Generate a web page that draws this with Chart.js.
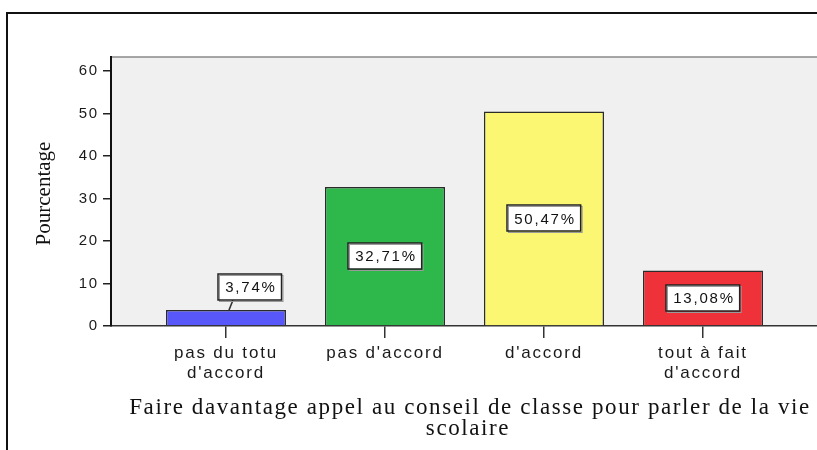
<!DOCTYPE html>
<html>
<head>
<meta charset="utf-8">
<script src="https://cdn.jsdelivr.net/npm/chart.js@4.4.1/dist/chart.umd.min.js"></script>
<style>
  html, body { margin: 0; padding: 0; background: #fff; }
  canvas { display: block; }
</style>
</head>
<body>
<canvas id="barChart" width="817" height="450"></canvas>
<script>
const categories = [["pas du totu", "d'accord"], "pas d'accord", "d'accord", ["tout à fait", "d'accord"]];
const percentages = [3.74, 32.71, 50.47, 13.08];
const valueLabels = ["3,74%", "32,71%", "50,47%", "13,08%"];
const yTicks = [0, 10, 20, 30, 40, 50, 60];
const barColors = ["#5858fa", "#2eb84b", "#fbf772", "#ef313a"];
const yTitle = "Pourcentage";
const xTitle = ["Faire davantage appel au conseil de classe pour parler de la vie", "scolaire"];

const sans = "'Liberation Sans', Arial, sans-serif";
const serif = "'Liberation Serif', 'Times New Roman', serif";

// fond gris, cadre, titres des axes
const framePlugin = {
  id: "frame",
  beforeDraw(chart) {
    const ctx = chart.ctx;
    const { left, top, right, bottom } = chart.chartArea;
    ctx.save();
    ctx.fillStyle = "#fff";
    ctx.fillRect(0, 0, chart.width, chart.height);

    ctx.fillStyle = "#f0f0f0";
    ctx.fillRect(left, top, right - left, bottom - top);
    ctx.strokeStyle = "#8a8a8a";
    ctx.lineWidth = 1.5;
    ctx.beginPath();
    ctx.moveTo(left, top);
    ctx.lineTo(right, top);
    ctx.stroke();

    // cadre extérieur
    ctx.strokeStyle = "#111";
    ctx.lineWidth = 2;
    ctx.beginPath();
    ctx.moveTo(7, chart.height);
    ctx.lineTo(7, 13);
    ctx.lineTo(chart.width, 13);
    ctx.stroke();

    // titre axe Y
    ctx.fillStyle = "#111";
    ctx.font = "21px " + serif;
    ctx.textAlign = "center";
    ctx.textBaseline = "middle";
    ctx.translate(44, (top + bottom) / 2 + 2);
    ctx.rotate(-Math.PI / 2);
    ctx.fillText(yTitle, 0, 0);
    ctx.restore();

    // titre axe X
    ctx.save();
    ctx.fillStyle = "#111";
    ctx.font = "23px " + serif;
    ctx.letterSpacing = "1.6px";
    ctx.textAlign = "center";
    ctx.textBaseline = "alphabetic";
    ctx.fillText(xTitle[0], 470, 414);
    ctx.fillText(xTitle[1], 468, 435);
    ctx.restore();

    ctx.letterSpacing = "1.8px";
  }
};

// étiquettes de valeur dans des boîtes blanches
const valueBoxPlugin = {
  id: "valueBoxes",
  afterDatasetsDraw(chart) {
    const ctx = chart.ctx;
    const meta = chart.getDatasetMeta(0);
    meta.data.forEach((bar, i) => {
      ctx.save();
      ctx.font = "15px " + sans;
      ctx.letterSpacing = "1.8px";
      const text = valueLabels[i];
      const w = ctx.measureText(text).width + 12;
      const h = 26;
      let cx = bar.x;
      let cy = (bar.y + bar.base) / 2;
      const outside = bar.base - bar.y < h + 10;
      if (outside) {
        cx = bar.x + 24;
        cy = bar.y - 10 - h / 2;
        ctx.strokeStyle = "#333";
        ctx.lineWidth = 1.5;
        ctx.beginPath();
        ctx.moveTo(bar.x + 3, bar.y);
        ctx.lineTo(bar.x + 7, cy + h / 2);
        ctx.stroke();
      }
      const x0 = Math.round(cx - w / 2);
      const y0 = Math.round(cy - h / 2);
      ctx.fillStyle = "#fff";
      ctx.fillRect(x0, y0, w, h);
      ctx.strokeStyle = "#9a9a9a";
      ctx.lineWidth = 1;
      ctx.strokeRect(x0 + 1.5, y0 + 1.5, w, h);
      ctx.strokeStyle = "#222";
      ctx.lineWidth = 1.5;
      ctx.strokeRect(x0, y0, w, h);
      ctx.fillStyle = "#111";
      ctx.textAlign = "center";
      ctx.textBaseline = "middle";
      ctx.fillText(text, cx + 1, cy + 1);
      ctx.restore();
    });
  }
};

new Chart(document.getElementById("barChart"), {
  type: "bar",
  data: {
    datasets: [{
      data: percentages.map((v, i) => ({ x: i, y: v })),
      backgroundColor: barColors,
      borderColor: "#2b2b2b",
      borderWidth: 1.5,
      barPercentage: 0.755,
      categoryPercentage: 1
    }]
  },
  options: {
    responsive: false,
    animation: false,
    layout: { padding: { top: 57, left: 0, right: 0, bottom: 0 } },
    plugins: {
      legend: { display: false },
      tooltip: { enabled: false },
      title: { display: false }
    },
    scales: {
      x: {
        type: "linear",
        min: -0.723,
        max: 3.717,
        offset: false,
        afterBuildTicks: (s) => { s.ticks = categories.map((c, i) => ({ value: i })); },
        afterFit: (s) => { s.height = 124; },
        grid: { offset: false, drawOnChartArea: false, drawTicks: true, tickLength: 12, color: "#333", lineWidth: 1.5 },
        border: { color: "#333", width: 1.5 },
        ticks: {
          autoSkip: false,
          maxRotation: 0,
          padding: 6,
          color: "#1a1a1a",
          font: { family: sans, size: 17, lineHeight: 1.15 },
          callback: (v) => categories[v]
        }
      },
      y: {
        min: 0,
        max: 63.3,
        afterBuildTicks: (s) => { s.ticks = yTicks.map((v) => ({ value: v })); },
        afterFit: (s) => { s.width = 111; },
        grid: { drawOnChartArea: false, drawTicks: true, tickLength: 8, color: "#222", lineWidth: 1.5 },
        border: { color: "#111", width: 2 },
        ticks: {
          padding: 4,
          color: "#1a1a1a",
          font: { family: sans, size: 15 }
        }
      }
    }
  },
  plugins: [framePlugin, valueBoxPlugin]
});
</script>
</body>
</html>
